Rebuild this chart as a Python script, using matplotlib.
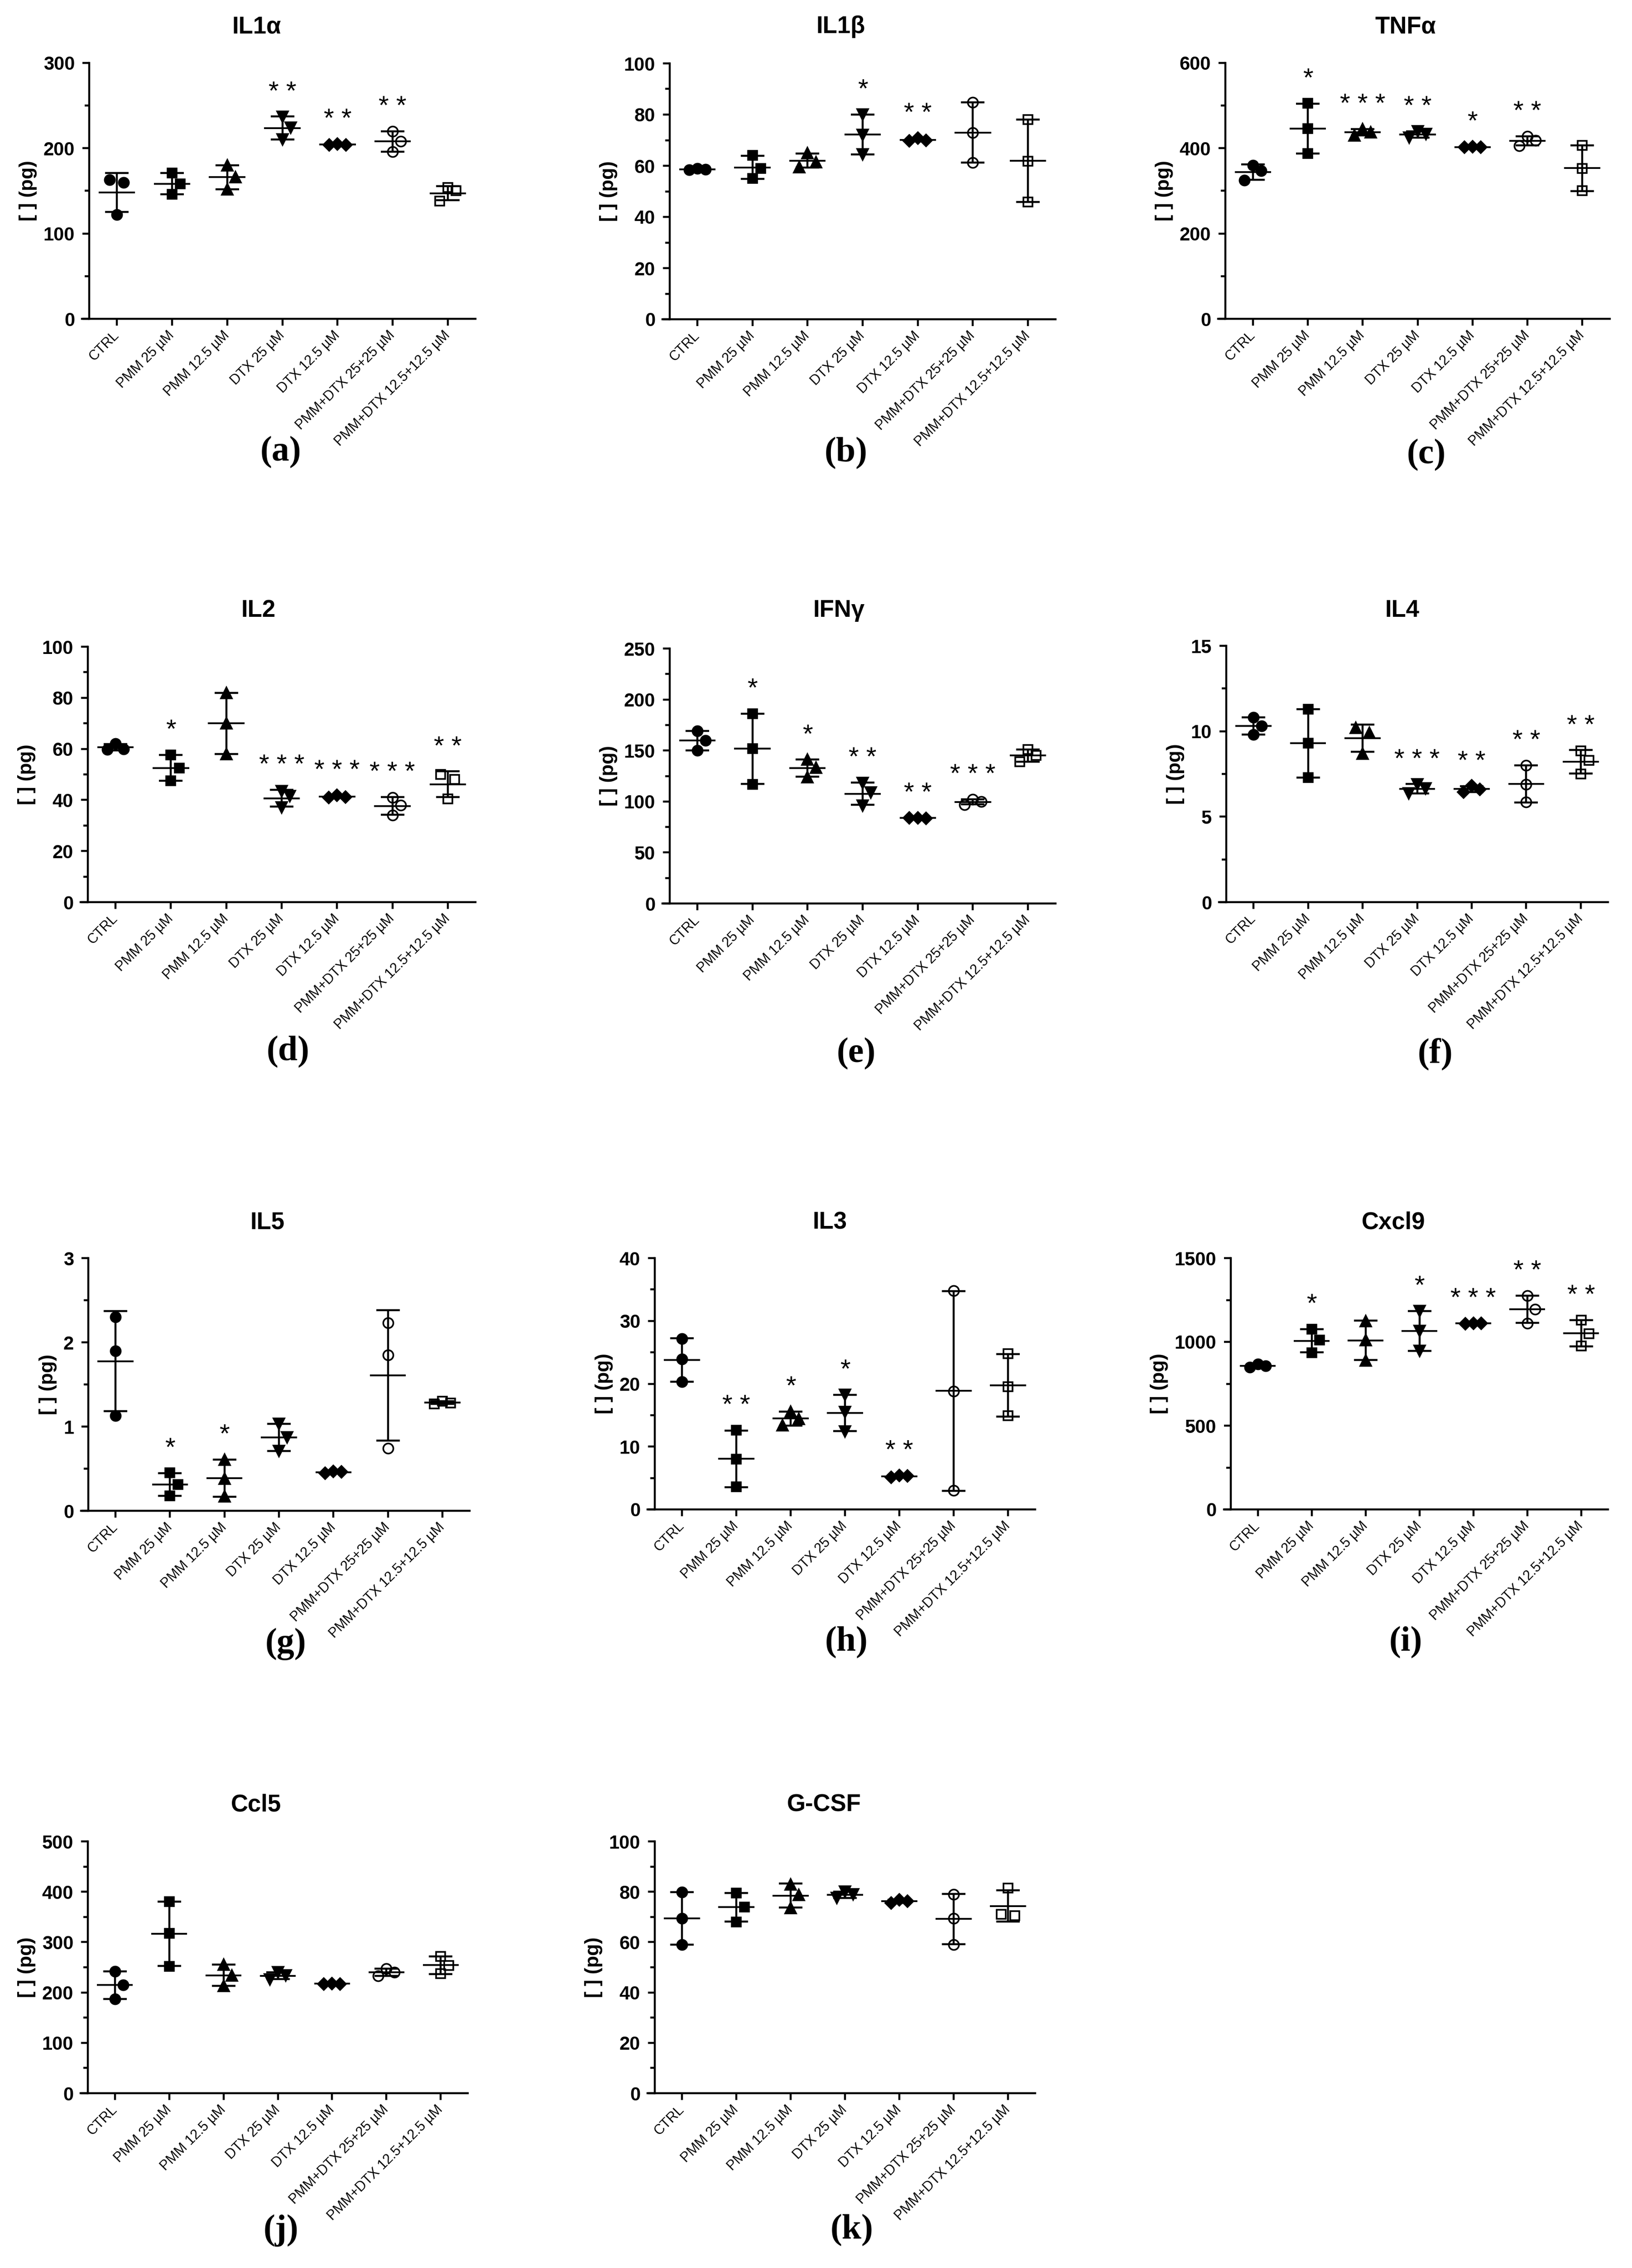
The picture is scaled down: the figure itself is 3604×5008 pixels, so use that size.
import numpy as np
import matplotlib
matplotlib.use('Agg')
import matplotlib.pyplot as plt
from matplotlib import ticker, font_manager

plt.rcParams['font.family'] = ['Liberation Sans', 'DejaVu Sans']

# groups (same order in every panel)
groups = ['CTRL', 'PMM 25 µM', 'PMM 12.5 µM', 'DTX 25 µM', 'DTX 12.5 µM',
          'PMM+DTX 25+25 µM', 'PMM+DTX 12.5+12.5 µM']

# three replicates per group
il1a = [[163, 160, 122], [171, 158, 146], [180, 166, 152], [237, 224, 210],
        [205, 204, 204], [220, 208, 196], [154, 150, 138]]
il1a_sig = [0, 0, 0, 2, 2, 2, 0]

il1b = [[59.0, 58.6, 58.4], [64, 59, 55], [65, 61.5, 59.5], [80, 72, 64.5],
        [70.8, 70.0, 69.7], [84.7, 73, 61.3], [78, 61.8, 45.8]]
il1b_sig = [0, 0, 0, 1, 2, 0, 0]

tnfa = [[360, 347, 325], [505, 446, 388], [445, 438, 430], [440, 433, 425],
        [404, 403, 402], [428, 418, 406], [407, 353, 300]]
tnfa_sig = [0, 1, 3, 2, 1, 2, 0]

il2 = [[62, 60, 59.8], [57.7, 52.5, 47.5], [82, 70, 58], [43.5, 41.5, 37],
       [41.8, 41.2, 41.0], [41, 38, 34], [50, 48, 40.5]]
il2_sig = [0, 1, 0, 3, 3, 3, 2]

ifng = [[169, 160, 150], [186, 152, 117], [141, 133, 124], [118, 109, 96],
        [84, 83.5, 83.8], [102, 100, 97], [151, 145, 139]]
ifng_sig = [0, 1, 1, 2, 2, 3, 0]

il4 = [[10.8, 10.3, 9.8], [11.3, 9.3, 7.3], [10.2, 9.9, 8.7], [6.9, 6.65, 6.35],
       [6.8, 6.6, 6.45], [8.0, 6.9, 5.85], [8.85, 8.3, 7.5]]
il4_sig = [0, 0, 0, 3, 2, 2, 2]

il5 = [[2.3, 1.9, 1.13], [0.45, 0.31, 0.18], [0.61, 0.38, 0.17], [1.03, 0.87, 0.71],
       [0.47, 0.46, 0.445], [2.23, 1.85, 0.74], [1.30, 1.28, 1.27]]
il5_sig = [0, 1, 1, 0, 0, 0, 0]

il3 = [[27.2, 23.9, 20.3], [12.6, 8.0, 3.6], [15.6, 14.4, 13.4], [18.2, 15.5, 12.4],
       [5.4, 5.3, 5.1], [34.8, 18.8, 3.0], [24.8, 19.5, 14.9]]
il3_sig = [0, 2, 1, 1, 2, 0, 0]

cxcl9 = [[868, 856, 850], [1075, 1010, 935], [1125, 1010, 890], [1185, 1065, 947],
         [1112, 1110, 1108], [1275, 1195, 1112], [1130, 1050, 975]]
cxcl9_sig = [0, 1, 0, 1, 3, 2, 2]

ccl5 = [[242, 215, 187], [380, 317, 252], [255, 234, 213], [240, 234, 226],
        [218, 217, 217], [247, 240, 233], [272, 254, 237]]
ccl5_sig = [0, 0, 0, 0, 0, 0, 0]

gcsf = [[79.8, 69.5, 59], [79.5, 74, 68], [83, 78.8, 73.5], [80, 79, 77.5],
        [76.8, 76.2, 75.6], [79, 69.5, 59], [81.5, 71, 70.5]]
gcsf_sig = [0, 0, 0, 0, 0, 0, 0]

# marker per group
markers = ['o', 's', '^', 'v', 'D', 'o', 's']
msizes = [16, 14, 17, 17, 13, 16, 14]
filled = [True, True, True, True, True, False, False]

FIG_W, FIG_H = 3604, 5008

# (title, data, stars, ymax, major, minor, axes box px (l, r, t, b), title xy, letter, letter xy)
panels = [
    ('IL1α', il1a, il1a_sig, 300, 100, 50, (197, 1050, 139, 704), (567, 59), '(a)', (620, 999)),
    ('IL1β', il1b, il1b_sig, 100, 20, 10, (1479, 2331, 140, 705), (1857, 59), '(b)', (1868, 1001)),
    ('TNFα', tnfa, tnfa_sig, 600, 200, 100, (2706, 3555, 139, 704), (3104, 59), '(c)', (3150, 1005)),
    ('IL2', il2, il2_sig, 100, 20, 10, (194, 1050, 1428, 1992), (571, 1348), '(d)', (636, 2323)),
    ('IFNγ', ifng, ifng_sig, 250, 50, 25, (1479, 2331, 1432, 1995), (1853, 1348), '(e)', (1891, 2327)),
    ('IL4', il4, il4_sig, 15, 5, 2.5, (2708, 3551, 1426, 1992), (3096, 1348), '(f)', (3169, 2327)),
    ('IL5', il5, il5_sig, 3, 1, 0.5, (195, 1037, 2778, 3336), (591, 2699), '(g)', (631, 3630)),
    ('IL3', il3, il3_sig, 40, 10, 5, (1446, 2286, 2778, 3333), (1833, 2699), '(h)', (1869, 3627)),
    ('Cxcl9', cxcl9, cxcl9_sig, 1500, 500, 250, (2718, 3551, 2778, 3333), (3077, 2699), '(i)', (3104, 3627)),
    ('Ccl5', ccl5, ccl5_sig, 500, 100, 50, (194, 1033, 4066, 4622), (566, 3985), '(j)', (620, 4925)),
    ('G-CSF', gcsf, gcsf_sig, 100, 20, 10, (1446, 2286, 4066, 4622), (1820, 3985), '(k)', (1881, 4925)),
]

names = {f.name for f in font_manager.fontManager.ttflist}
if 'Liberation Sans Narrow' in names:
    NARROW, XT_SIZE = 'Liberation Sans Narrow', 25
else:
    NARROW, XT_SIZE = 'Liberation Sans', 22


def spread(vals, h_px, ymax, step=0.15, gap_px=34):
    # scatter-dot arrangement: shift points sideways when they would overlap
    scale = h_px / ymax
    n = len(vals)
    near = [[j for j in range(n) if j != i and abs(vals[i] - vals[j]) * scale < gap_px]
            for i in range(n)]
    offs = [0.0] * n
    placed = []
    for i, v in enumerate(vals):
        for k in [0, 1, -1, 2, -2]:
            dx = k * step
            if not any(abs(dx - offs[j]) < step * 0.5 for j in placed if j in near[i]):
                break
        offs[i] = dx
        placed.append(i)
    # a lone close pair sits either side of the centre
    for i in range(n):
        if len(near[i]) == 1:
            j = near[i][0]
            if len(near[j]) == 1 and i < j:
                offs[i], offs[j] = -0.85 * step, 0.85 * step
    return offs


fig = plt.figure(figsize=(FIG_W / 100, FIG_H / 100), dpi=100)

for title, data, sig, ymax, major, minor, bx, txy, letter, lxy in panels:
    l, r, t, b = bx
    ax = fig.add_axes([l / FIG_W, 1 - b / FIG_H, (r - l) / FIG_W, (b - t) / FIG_H])
    for i, vals in enumerate(data):
        x = i + 1
        vals = np.array(vals, dtype=float)
        offs = spread(list(vals), b - t, ymax)
        ax.plot(x + np.array(offs), vals, linestyle='none', marker=markers[i],
                markersize=msizes[i], markerfacecolor='black' if filled[i] else 'none',
                markeredgecolor='black', markeredgewidth=2.6, zorder=2, clip_on=False)
        m = vals.mean()
        sd = vals.std(ddof=1)
        ax.hlines(m, x - 0.33, x + 0.33, colors='black', linewidth=2.8, zorder=3)
        ax.errorbar(x, m, yerr=sd, fmt='none', ecolor='black', elinewidth=3.2,
                    capsize=19, capthick=3.2, zorder=3)
        if sig[i]:
            top = max(m + sd, vals.max())
            ax.annotate(' '.join('*' * sig[i]), xy=(x, top), xytext=(0, 38),
                        textcoords='offset points', ha='center', va='center',
                        fontsize=42, annotation_clip=False)

    ax.set_xlim(0.5, 7.5)
    ax.set_ylim(0, ymax)
    ax.yaxis.set_major_locator(ticker.MultipleLocator(major))
    ax.yaxis.set_minor_locator(ticker.MultipleLocator(minor))
    ax.yaxis.set_major_formatter(ticker.FuncFormatter(lambda v, p: '%g' % v))
    ax.set_xticks(range(1, 8))
    ax.set_xticklabels(groups, rotation=45, ha='right', va='center',
                       rotation_mode='anchor', fontsize=XT_SIZE, family=NARROW)
    for s in ['top', 'right']:
        ax.spines[s].set_visible(False)
    for s in ['left', 'bottom']:
        ax.spines[s].set_linewidth(3.2)
    ax.spines['bottom'].set_bounds(0.37, 7.5)
    ax.tick_params(axis='y', which='major', length=11, width=3.2, labelsize=30, pad=12)
    ax.tick_params(axis='y', which='minor', length=7, width=3.2)
    ax.tick_params(axis='x', length=11, width=3.2, pad=12)
    for lab in ax.get_yticklabels():
        lab.set_fontweight('bold')
    ax.set_ylabel('[ ] (pg)', fontsize=31, fontweight='bold', labelpad=10)

    fig.text(txy[0] / FIG_W, 1 - txy[1] / FIG_H, title, ha='center', va='center',
             fontsize=38, fontweight='bold')
    fig.text(lxy[0] / FIG_W, 1 - lxy[1] / FIG_H, letter, ha='center', va='center',
             fontsize=56, fontweight='bold', family='Liberation Serif')

fig.savefig('out.png', dpi=100, facecolor='white')
